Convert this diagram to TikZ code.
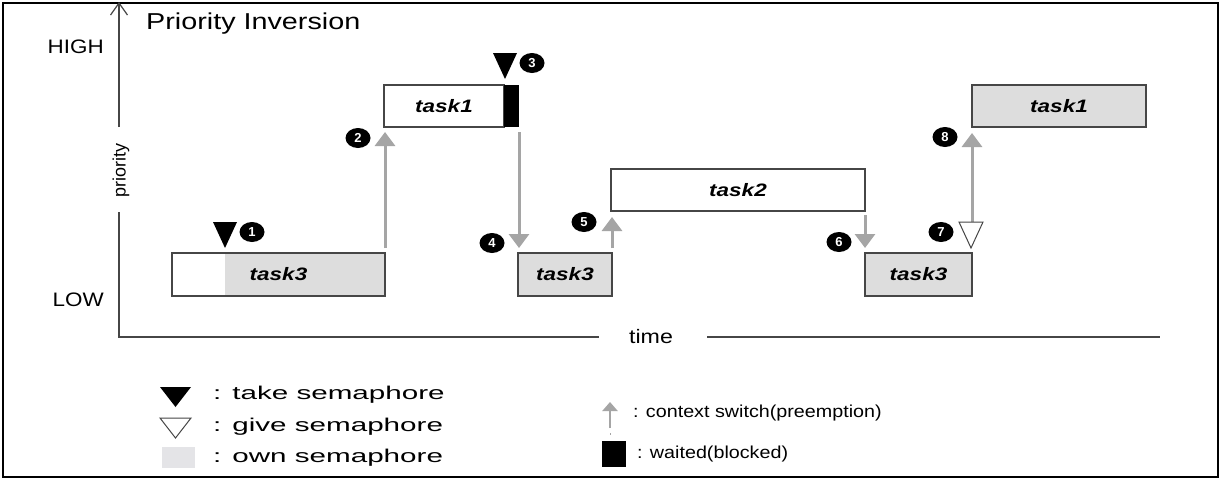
\documentclass[tikz,border=0pt]{standalone}
\usepackage{fontspec}
\setmainfont{Liberation Sans}
\usepackage{graphicx}
\usetikzlibrary{arrows.meta,positioning,shapes.geometric}

\definecolor{owngray}{RGB}{221,221,221}
\definecolor{legendgray}{RGB}{228,228,231}
\definecolor{ctxgray}{RGB}{165,165,165}
\definecolor{linegray}{RGB}{70,70,70}
\newcommand{\wide}[2][1.25]{\scalebox{#1}[1]{#2}}

\tikzset{
  task/.style={draw=linegray, line width=1.2pt, inner sep=0pt, outer sep=0pt,
    minimum height=42pt, font=\fontsize{18}{20}\selectfont\bfseries\itshape},
  blockbox/.style={fill=black, inner sep=0pt, outer sep=0pt,
    minimum width=15pt, minimum height=42pt},
  ctx/.style={draw=ctxgray, line width=3pt, -{Triangle[length=14pt,width=20pt]}},
  num/.style={ellipse, fill=black, text=white, inner sep=0pt, minimum width=25pt,
    minimum height=20pt, font=\fontsize{13}{13}\selectfont\bfseries},
  axisline/.style={draw=linegray, line width=1.2pt},
  txt/.style={inner sep=0pt}
}

\begin{document}
\begin{tikzpicture}[x=1pt, y=-1pt]
  % Frame and title
  \fill[white] (0,0) rectangle (1223,480);
  \draw[line width=2pt] (3,3) rectangle (1218,477);
  \node[txt, anchor=base west, font=\fontsize{23}{28}\selectfont] (title) at (146,29) {\wide{Priority Inversion}};

  % Draw axes
  \draw[axisline, -{Straight Barb[length=12pt,width=17pt]}] (119,127) -- (119,2);
  \draw[axisline] (119,212) -- (119,337) -- (599,337);
  \draw[axisline] (707,337) -- (1160,337);
  \node[txt, rotate=90, font=\fontsize{18}{20}\selectfont] (prio) at (121,170) {priority};
  \node[txt, font=\fontsize{19.5}{22}\selectfont] (time) at (651,337) {\wide[1.19]{time}};
  \node[txt, anchor=east, font=\fontsize{19.5}{22}\selectfont] (high) at (104,47) {\wide[1.15]{HIGH}};
  \node[txt, anchor=east, font=\fontsize{19.5}{22}\selectfont] (low) at (104,300) {\wide[1.15]{LOW}};

  % Tasks
  \fill[owngray] (225,253) rectangle (385,296);
  \node[task, minimum width=213pt, minimum height=43pt] (t3a) at (278.5,274.5) {\wide{task3}};
  \node[task, minimum width=120pt] (t1a) at (444,106) {\wide{task1}};
  \node[blockbox, right=0pt of t1a] (blk) {};
  \node[task, fill=owngray, minimum width=94pt, minimum height=43pt] (t3b) at (565,274.5) {\wide{task3}};
  \node[task, minimum width=254pt] (t2) at (738,190) {\wide{task2}};
  \node[task, fill=owngray, minimum width=107pt, minimum height=43pt] (t3c) at (918.5,274.5) {\wide{task3}};
  \node[task, fill=owngray, minimum width=174pt] (t1b) at (1059,106) {\wide{task1}};

  % Context switches
  \coordinate (g7) at (972,222);
  \draw[ctx, shorten <=5pt, shorten >=5pt] (t3a.north east) -- (t3a.north east |- t1a.south);
  \draw[ctx, shorten <=5pt, shorten >=5pt] (blk.south east) -- (blk.south east |- t3b.north);
  \draw[ctx, shorten <=5pt, shorten >=6pt] (t3b.north east) -- (t3b.north east |- t2.south);
  \draw[ctx, shorten <=4pt, shorten >=5pt] (t2.south east) -- (t2.south east |- t3c.north);
  \draw[ctx, shorten >=6pt] (g7) -- (g7 |- t1b.south);

  % Semaphores
  \fill (213,222) -- (237,222) -- (225,248) -- cycle;
  \fill (493,53) -- (517,53) -- (505,79) -- cycle;
  \draw[linegray, fill=white, line width=1pt] (959,222) -- (983,222) -- (971,248) -- cycle;

  % Steps
  \node[num] (n1) at (252,232) {1};
  \node[num] (n2) at (358,138) {2};
  \node[num] (n3) at (532,63) {3};
  \node[num] (n4) at (492,243) {4};
  \node[num] (n5) at (584,222) {5};
  \node[num] (n6) at (839,242) {6};
  \node[num] (n7) at (941,232) {7};
  \node[num] (n8) at (945,137) {8};

  % Legend
  \fill (160,387) -- (191,387) -- (175.5,407) -- cycle;
  \draw[linegray, line width=1pt] (160,418) -- (191,418) -- (175.5,438) -- cycle;
  \fill[legendgray] (162,447) rectangle (195,468);
  \node[txt, anchor=west, font=\fontsize{18.5}{20}\selectfont] (ltake) at (213,395) {\wide[1.6]{: take semaphore}};
  \node[txt, anchor=west, font=\fontsize{18.5}{20}\selectfont] (lgive) at (213,427) {\wide[1.6]{: give semaphore}};
  \node[txt, anchor=west, font=\fontsize{18.5}{20}\selectfont] (lown) at (213,458) {\wide[1.6]{: own semaphore}};
  \draw[ctxgray, line width=2.5pt, -{Triangle[length=9pt,width=15pt]}] (610,428) -- (610,402);
  \draw[ctxgray, line width=1pt] (610,433) -- (610,435);
  \node[blockbox, minimum width=24pt, minimum height=26pt] (lblk) at (614,454) {};
  \node[txt, anchor=west, font=\fontsize{17.3}{19}\selectfont] (lctx) at (633,413) {\wide[1.14]{: context switch(preemption)}};
  \node[txt, anchor=west, font=\fontsize{17.3}{19}\selectfont] (lwait) at (637,454) {\wide[1.14]{: waited(blocked)}};
\end{tikzpicture}
\end{document}
